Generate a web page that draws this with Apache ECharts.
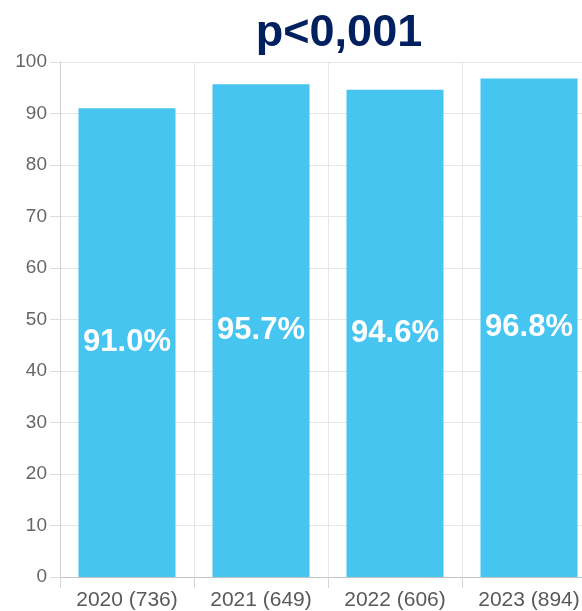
<!DOCTYPE html>
<html>
<head>
<meta charset="utf-8">
<script src="https://cdn.jsdelivr.net/npm/echarts@6/dist/echarts.min.js"></script>
<style>
  html, body { margin: 0; padding: 0; background: #fff; }
  #chart { width: 582px; height: 611px; }
</style>
</head>
<body>
<div id="chart"></div>
<script>
// Share of cases per year (sample size in brackets)
const categories = ['2020 (736)', '2021 (649)', '2022 (606)', '2023 (894)'];
const values = [91.0, 95.7, 94.6, 96.8];
const yTicks = { min: 0, max: 100, interval: 10 };
const titleText = 'p<0,001';

const chart = echarts.init(document.getElementById('chart'), null, { renderer: 'canvas' });

chart.setOption({
  animation: false,
  backgroundColor: '#ffffff',
  graphic: [{
    type: 'text',
    x: 339,
    y: 34,
    style: {
      text: titleText,
      fill: '#002060',
      font: 'bold 45px "Liberation Sans", Arial, sans-serif',
      textAlign: 'center',
      textVerticalAlign: 'middle'
    }
  }],
  // plot area runs past the right edge of the canvas
  grid: {
    left: 60, width: 536, top: 62, height: 515,
    containLabel: false,
    outerBoundsMode: 'none'
  },
  xAxis: {
    type: 'category',
    data: categories,
    boundaryGap: true,
    axisLine: { show: true, lineStyle: { color: '#c4c4c4', width: 1 } },
    axisTick: { show: true, length: 11, lineStyle: { color: '#d6d6d6' } },
    splitLine: { show: true, lineStyle: { color: '#e6e6e6', width: 1 } },
    axisLabel: {
      color: '#595959',
      fontSize: 21,
      fontFamily: '"Liberation Sans", Arial, sans-serif',
      margin: 13
    }
  },
  yAxis: {
    type: 'value',
    min: yTicks.min,
    max: yTicks.max,
    interval: yTicks.interval,
    axisLine: { show: true, lineStyle: { color: '#cfcfcf', width: 1 } },
    axisTick: { show: true, length: 10, lineStyle: { color: '#dcdcdc' } },
    splitLine: { show: true, lineStyle: { color: '#e6e6e6', width: 1 } },
    axisLabel: {
      color: '#666666',
      fontSize: 19,
      fontFamily: '"Liberation Sans", Arial, sans-serif',
      margin: 13
    }
  },
  series: [{
    type: 'bar',
    data: values,
    barWidth: 97,
    itemStyle: { color: '#45C5EF' },
    label: {
      show: true,
      position: 'inside',
      formatter: p => p.value.toFixed(1) + '%',
      color: '#ffffff',
      fontSize: 31,
      fontWeight: 'bold',
      fontFamily: '"Liberation Sans", Arial, sans-serif'
    }
  }]
});
</script>
</body>
</html>
